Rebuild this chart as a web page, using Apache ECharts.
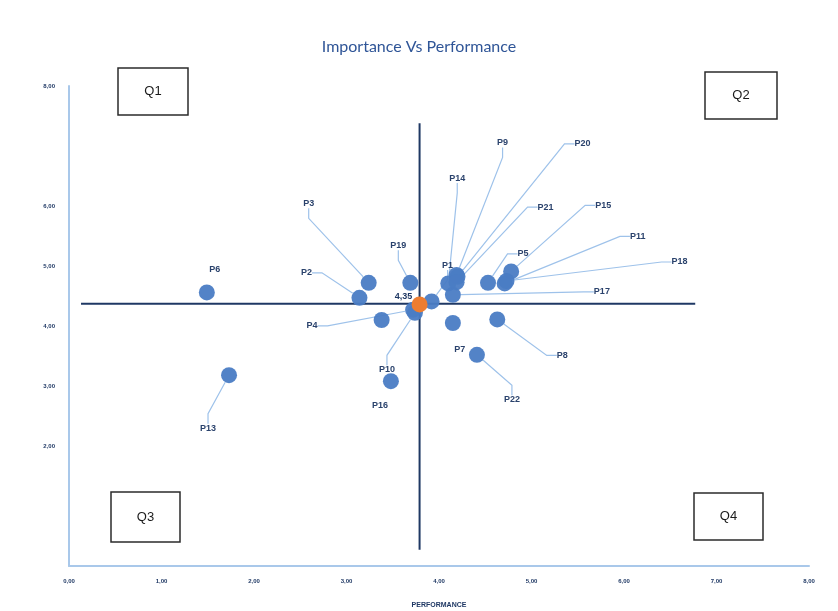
<!DOCTYPE html>
<html>
<head>
<meta charset="utf-8">
<script src="https://cdn.jsdelivr.net/npm/echarts@6/dist/echarts.min.js"></script>
<style>html,body{margin:0;padding:0;background:#fff}#c{width:838px;height:611px}</style>
</head>
<body>
<div id="c"></div>
<script>
// ---- data ----
const names = ['P1','P2','P3','P4','P5','P6','P7','P8','P9','P10','P11','P12','P13','P14','P15','P16','P17','P18','P19','P20','P21','P22'];
const performance = [3.92,3.14,3.24,3.72,4.53,1.49,4.15,4.63,4.19,3.74,4.71,3.38,1.73,4.10,4.78,3.48,4.15,4.73,3.69,4.20,4.19,4.41];
const importance  = [4.41,4.47,4.72,4.27,4.72,4.56,4.05,4.11,4.85,4.22,4.71,4.10,3.18,4.71,4.91,3.08,4.52,4.75,4.72,4.82,4.73,3.52];
const avgName = '4,35';
const avgPoint = [3.79, 4.36];
const hLine = [[0.13, 4.37], [6.77, 4.37]];
const vLine = [[3.79, 7.38], [3.79, 0.27]];
const xTickLabels = ['0,00','1,00','2,00','3,00','4,00','5,00','6,00','7,00','8,00'];
const yTickLabels = ['2,00','3,00','4,00','5,00','6,00','8,00'];

// ---- label placement (styling) ----
const labelOffsets = {
  P1:[16,-36], P2:[-53,-25], P3:[-60,-79], P4:[-101,16], P5:[35,-29], P6:[8,-23],
  P7:[7,27], P8:[65,36], P9:[46,-132], P10:[-28,57], P11:[133,-47], P12:[-45,33],
  P13:[-21,53], P14:[9,-105], P15:[92,-66], P16:[-11,24], P17:[149,-3], P18:[173,-19],
  P19:[-12,-37], P20:[125,-133], P21:[89,-75], P22:[35,45], '4,35':[-16,-8]
};
const noLeader = ['P6','P7','P16','P12','4,35'];
const hiddenLabel = ['P12'];

const chart = echarts.init(document.getElementById('c'));
const navy = '#1f3864';
const scatterData = names.map((n, i) => ({
  name: n,
  value: [performance[i], importance[i]],
  label: hiddenLabel.includes(n) ? { show: false } : undefined,
  labelLine: { show: !noLeader.includes(n) }
}));
// average point drawn last so it sits on top
scatterData.push({
  name: avgName, value: avgPoint,
  itemStyle: { color: '#ed7d31', opacity: 1 },
  labelLine: { show: false }
});
const allNames = scatterData.map(d => d.name);

function boxGraphic(x, y, w, h, t) {
  return {
    type: 'group',
    children: [
      { type: 'rect', shape: { x: x, y: y, width: w, height: h }, style: { fill: '#fff', stroke: '#2b2b2b', lineWidth: 1.5 } },
      { type: 'text', style: { x: x + w / 2, y: y + h / 2, text: t, fill: '#1a1a1a', font: '13px "Liberation Sans", Arial', align: 'center', verticalAlign: 'middle' } }
    ]
  };
}

chart.setOption({
  animation: false,
  backgroundColor: '#fff',
  title: {
    text: 'Importance Vs Performance',
    left: 'center', top: 34,
    textStyle: { color: '#2f5597', fontSize: 16, fontWeight: 'normal', fontFamily: 'Lato' }
  },
  grid: { left: 69, right: 29, top: 86, bottom: 45, containLabel: false, outerBoundsMode: 'none' },
  xAxis: {
    type: 'value', min: 0, max: 8, interval: 1,
    name: 'PERFORMANCE', nameLocation: 'middle', nameGap: 36,
    nameTextStyle: { color: navy, fontSize: 7, fontWeight: 'bold', fontFamily: 'Liberation Sans' },
    axisLine: { show: true, onZero: false, lineStyle: { color: '#a9c8ea', width: 2 } },
    axisTick: { show: false },
    splitLine: { show: false },
    axisLabel: { color: navy, fontSize: 6, fontWeight: 'bold', margin: 12,
      formatter: v => xTickLabels[Math.round(v)] }
  },
  yAxis: {
    type: 'value', min: 0, max: 8, interval: 1,
    axisLine: { show: true, onZero: false, lineStyle: { color: '#a9c8ea', width: 2 } },
    axisTick: { show: false },
    splitLine: { show: false },
    axisLabel: { color: navy, fontSize: 6, fontWeight: 'bold', margin: 14,
      formatter: v => { const s = v.toFixed(2).replace('.', ','); return yTickLabels.includes(s) ? s : ''; } }
  },
  graphic: [
    boxGraphic(118, 68, 70, 47, 'Q1'),
    boxGraphic(705, 72, 72, 47, 'Q2'),
    boxGraphic(111, 492, 69, 50, 'Q3'),
    boxGraphic(694, 493, 69, 47, 'Q4')
  ],
  series: [
    { type: 'line', data: hLine, symbol: 'none', silent: true, lineStyle: { color: navy, width: 2 }, z: 1 },
    { type: 'line', data: vLine, symbol: 'none', silent: true, lineStyle: { color: navy, width: 2 }, z: 1 },
    {
      type: 'scatter', data: scatterData, symbolSize: 16, z: 3,
      itemStyle: { color: '#4a7cc4', opacity: 0.95 },
      label: { show: true, position: 'inside', formatter: '{b}', color: navy, fontSize: 9, fontWeight: 'bold', fontFamily: 'Liberation Sans' },
      labelLine: { show: true, length2: 10, lineStyle: { color: '#9ec2ea', width: 1.2 } },
      labelLayout: p => { const o = labelOffsets[allNames[p.dataIndex]]; return { dx: o[0], dy: o[1] }; }
    }
  ]
});
</script>
</body>
</html>
